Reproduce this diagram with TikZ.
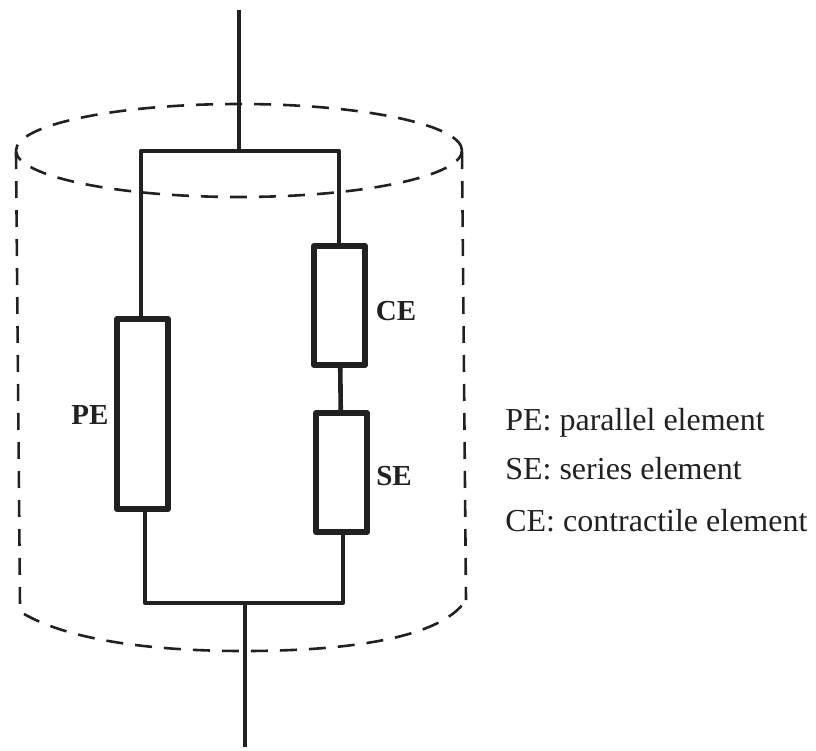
\documentclass[tikz,border=0pt]{standalone}
\usepackage{fontspec}
\setmainfont{Liberation Serif}
\usetikzlibrary{positioning}
\definecolor{ink}{gray}{0.13}
\begin{document}
\begin{tikzpicture}[x=1pt,y=-1pt,line width=4.6pt,line join=round,color=ink,
  elem/.style={draw=ink,line width=6pt,minimum width=#1,inner sep=0pt},
  lbl/.style={font=\rmfamily\bfseries\fontsize{29}{29}\selectfont,inner sep=0pt},
  legend/.style={font=\rmfamily\fontsize{32}{32}\selectfont,anchor=base west,inner sep=0pt},
  wall/.style={draw=ink,line width=2.6pt,dash pattern=on 17pt off 12pt}]
  \useasboundingbox (0,0) rectangle (816,750);
  \node (pe) [elem=51pt,minimum height=190pt] at (142.5,414) {};
  \node (ce) [elem=51pt,minimum height=119pt] at (339.5,305.5) {};
  \node (se) [elem=51pt,minimum height=119pt] at (341.5,472.5) {};
  \coordinate (top) at (239,10);
  \coordinate (tj) at (239,151);
  \coordinate (tl) at (141,151);
  \coordinate (tr) at (339,151);
  \coordinate (bot) at (245,747);
  \coordinate (bj) at (245,603);
  \coordinate (bl) at (145,603);
  \coordinate (br) at (343,603);
  \draw (top) -- (tj);
  \draw (pe.north -| tl) -- (tl) -- (tr) -- (ce.north -| tr);
  \draw (ce) -- (se);
  \draw (pe.south -| bl) -- (bl) -- (br) -- (se.south -| br);
  \draw (bj) -- (bot);
  \node (pelbl) [lbl] at (90,415) {PE};
  \node (celbl) [lbl] at (396,311) {CE};
  \node (selbl) [lbl] at (394,476) {SE};
  % cylinder
  \draw[wall] (239,150.5) ellipse (223pt and 46.5pt);
  \draw[wall] (16,152) -- (20,606);
  \draw[wall] (462,152) -- (466,600);
  \draw[wall] (24,614) .. controls (70,640) and (150,651) .. (244,651) .. controls (340,651) and (440,640) .. (466,600);
  % legend
  \node (legpe) [legend] at (503,430) {PE: parallel element};
  \node (legse) [legend] at (503,479) {SE: series element};
  \node (legce) [legend] at (503,531) {CE: contractile element};
\end{tikzpicture}
\end{document}
